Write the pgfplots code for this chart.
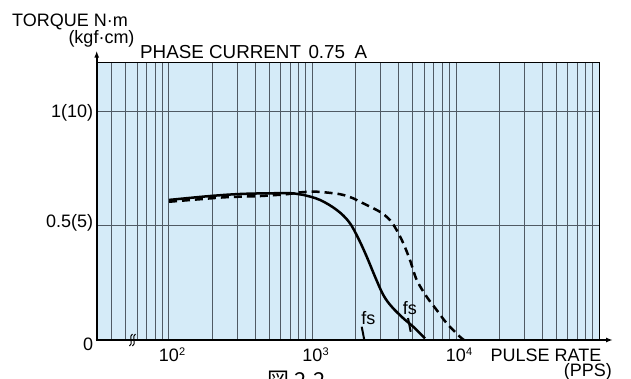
\documentclass[border=0pt]{standalone}
\usepackage{pgfplots}
\pgfplotsset{compat=1.18}
\usepackage{fontspec}
\setmainfont{Liberation Sans}
\newfontfamily\cjk{Noto Sans CJK JP}
\usetikzlibrary{arrows.meta}
\definecolor{bgblue}{RGB}{213,235,248}
\definecolor{gridc}{RGB}{80,90,100}
\newcommand{\tl}[1]{10\rlap{\raisebox{6.5pt}{\fontsize{11}{11}\selectfont #1}}}
\begin{document}
\fontsize{18}{21}\selectfont
\begin{tikzpicture}
\path[use as bounding box] (0pt,0pt) rectangle (631pt,379pt);
\begin{axis}[
  at={(96.7pt,39pt)}, anchor=south west, scale only axis,
  width=502.8pt, height=277pt,
  xmode=log, xmin=31.35, xmax=100000, ymin=0, ymax=1.2123,
  xtick={100,1000,10000}, xticklabels={},
  minor xtick={40,50,60,70,80,90,200,300,400,500,600,700,800,900,2000,3000,4000,5000,6000,7000,8000,9000,20000,30000,40000,50000,60000,70000,80000,90000},
  ytick={0.5,1}, yticklabels={},
  xmajorgrids, xminorgrids, ymajorgrids,
  major grid style={gridc, line width=1pt},
  minor grid style={gridc, line width=1pt},
  major tick length=0pt, minor tick length=0pt,
  axis line style={black, line width=1pt},
  axis background/.style={fill=bgblue},
  clip=false,
]
% solid curve
\addplot[black, line width=2.5pt, smooth, tension=0.6] coordinates {
(100,0.613)(193,0.630)(313,0.639)(506,0.642)(735,0.642)(863,0.635)(1127,0.613)
(1476,0.569)(1800,0.516)(2085,0.445)(2386,0.365)(2728,0.277)
(3115,0.197)(3562,0.146)(4295,0.095)(5036,0.058)(6081,0.007)};
% dashed curve
\addplot[black, line width=2.5pt, smooth, dash pattern=on 8pt off 5pt] coordinates {
(100,0.605)(164,0.616)(252,0.625)(430,0.630)(661,0.638)(818,0.646)(1069,0.649)
(1556,0.638)(1924,0.620)(2143,0.605)(2951,0.561)(3464,0.525)(3860,0.481)
(4295,0.423)(4779,0.350)(5321,0.263)(6250,0.189)(7340,0.131)(8620,0.073)
(10660,0.014)(11380,0)};
% fs marks
\addplot[black, line width=2pt] coordinates {(2203,0.058)(2296,0)};
\addplot[black, line width=2pt] coordinates {(4633,0.096)(4833,0.036)};
\node[inner sep=0] at (axis cs:2455,0.0963) {fs};
\node[inner sep=0] at (axis cs:4775,0.139) {fs};
% thick axes with arrows
\draw[line width=2.2pt, -{Latex[length=7pt,width=5pt]}] ([yshift=-1.1pt]rel axis cs:0,0) -- ([yshift=12.3pt]rel axis cs:0,1);
\draw[line width=2.2pt, -{Latex[length=7pt,width=5pt]}] ([xshift=-1.1pt]rel axis cs:0,0) -- ([xshift=13.5pt]rel axis cs:1,0);
% axis break
\draw[line width=1pt] ([xshift=-3.5pt,yshift=-6pt]axis cs:56.1,0) .. controls +(4pt,1pt) and +(-4pt,-1pt) .. ([xshift=-0.5pt,yshift=6pt]axis cs:56.1,0);
\draw[line width=1pt] ([xshift=-0.5pt,yshift=-6pt]axis cs:56.1,0) .. controls +(4pt,1pt) and +(-4pt,-1pt) .. ([xshift=2.5pt,yshift=6pt]axis cs:56.1,0);
% tick labels
\node[anchor=base, inner sep=0] at (axis cs:100,-0.095) {\tl{2}};
\node[anchor=base, inner sep=0] at (axis cs:1000,-0.095) {\tl{3}};
\node[anchor=base, inner sep=0] at (axis cs:10000,-0.095) {\tl{4}};
\node[anchor=east, inner sep=0] at ([xshift=-3.4pt]axis cs:31.35,0.9956) {1(10)};
\node[anchor=east, inner sep=0] at ([xshift=-3.4pt]axis cs:31.35,0.513) {0.5(5)};
\node[anchor=east, inner sep=0] at ([xshift=-3.4pt]axis cs:31.35,-0.0175) {0};
\end{axis}
\node[anchor=base west, inner sep=0] at (12pt,352.3pt) {TORQUE N·m};
\node[anchor=base west, inner sep=0] at (68.3pt,335.8pt) {(kgf·cm)};
\node[anchor=base west, inner sep=0] at (140pt,320.7pt) {\fontsize{18.8}{21}\selectfont PHASE CURRENT};
\node[anchor=base west, inner sep=0] at (308.3pt,320.7pt) {\fontsize{18.8}{21}\selectfont 0.75};
\node[anchor=base west, inner sep=0] at (354.5pt,320.7pt) {\fontsize{18.8}{21}\selectfont A};
\node[anchor=base west, inner sep=0] at (490.5pt,17.5pt) {PULSE RATE};
\node[anchor=base east, inner sep=0] at (612pt,2.5pt) {(PPS)};
\node[anchor=base west, inner sep=0] at (267pt,-10pt) {\cjk\fontsize{22}{22}\selectfont 図 2-2};
\end{tikzpicture}
\end{document}
